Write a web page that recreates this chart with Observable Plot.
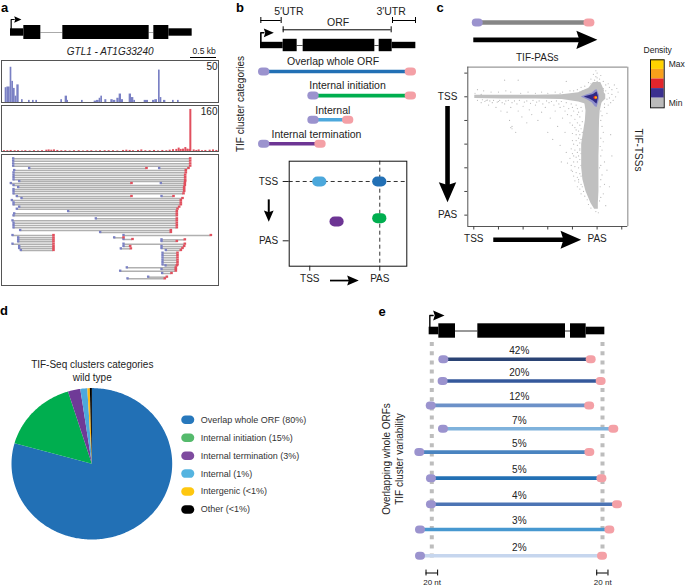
<!DOCTYPE html>
<html><head><meta charset="utf-8">
<script src="https://cdn.jsdelivr.net/npm/d3@7"></script>
<script src="https://cdn.jsdelivr.net/npm/@observablehq/plot@0.6"></script>
<style>
html,body{margin:0;padding:0;background:#fff}
#page{position:relative;width:685px;height:587px;overflow:hidden;font-family:"Liberation Sans",Arial,sans-serif;color:#222}
#page svg{position:absolute;overflow:visible;max-width:none}
.lab{position:absolute;white-space:nowrap;line-height:1;transform:translate(-50%,-50%)}
</style></head><body><div id="page"></div>
<script>
// ---------- DATA ----------
// panel a: coverage in genome bins
const tifTssBinStart=[13,18,23,28,33,38,43,48,62,83,95,105,180,193,200,242,280,287,295,300,312,330,337,348,355,362,385,392,399,430,437,455,462,473,478,488,515,530];
const tifTssBinEnd=[18,23,28,33,38,43,48,55,67,88,100,110,185,200,203,247,287,295,300,305,318,337,345,355,362,368,392,399,404,437,443,462,470,478,483,495,520,535];
const tifTssCount=[21,22,22,50,30,20,9,25,4,3,3,3,4,9,3,3,2,3,6,9,4,4,3,6,12,4,12,7,3,3,3,3,4,46,7,3,3,3];
const tifPasBin=[8,18,28,40,50,62,72,85,98,110,122,135,142,150,158,168,180,192,205,218,232,245,258,270,284,296,310,322,335,348,365,375,385,395,410,420,432,445,458,470,483,495,505,515,525,532,538,545,552,558,564,567,577,585,592,602,612,625,635,645];
const tifPasCount=[3,3,4,3,3,2,3,2,3,2,3,5,6,5,6,4,3,3,2,3,3,2,3,3,2,3,3,3,3,2,4,5,4,3,4,6,3,3,4,2,4,3,5,7,8,13,8,9,15,9,8,160,6,4,6,3,4,5,6,4];
const readRow=[25,32,40,47,54,54,60,67,74,81,88,93,99,99,105,111,117,123,130,138,138,144,150,157,163,170,176,183,190,196,205,211,218,225,232,240,246,255,262,268,274,281,288,294,300,255,262,267,281,288,295,268,273,288,294,300,308,315,322,329,336,343,346,352,357,362,369,380,385];
const readStart=[37,37,37,37,85,475,40,38,38,38,38,55,30,480,38,52,38,38,38,48,482,62,33,38,38,55,48,202,40,38,285,35,38,38,38,58,298,35,52,52,52,35,55,55,60,368,340,368,368,368,360,482,482,482,482,495,485,485,485,485,485,485,494,378,482,358,484,442,380];
const readEnd=[568,568,568,568,437,563,555,555,553,553,553,553,392,552,552,550,550,550,548,392,518,545,540,540,540,535,530,528,528,528,528,528,528,528,528,510,510,158,158,158,158,158,158,158,158,630,368,395,552,388,390,552,528,550,545,540,530,530,530,530,530,530,528,525,525,525,512,498,492];
// gene models
const geneA={utr:[[30,70],[505,575]],cds:[[70,121],[187,446],[460,505]],intron:[[121,187],[446,460]]};
const geneB={utr:[[75,143],[470,541]],cds:[[143,185],[203,418],[431,470]],intron:[[185,203],[418,431]]};
const geneE={utr:[[176,205],[647,703]],cds:[[205,255],[322,585],[600,647]],intron:[[255,322],[585,600]]};
// panel b
const categoryNames=["Overlap whole ORF","Internal initiation","Internal","Internal termination"];
const categoryStart=[86,234,234,86];
const categoryEnd=[526,526,338,255];
const categoryLabelCentre=[293,336,292,243];
const categoryColors=["#2270B5","#00AE4F","#4CA8DC","#6D3594"];
const sketchU=[0.143,1,1,0.39];
const sketchV=[0,0,0.618,0.674];
const sketchColors=["#4CA8DC","#2270B5","#00AE4F","#6D3594"];
// panel c
const envelopeV=[-0.12,-0.05,0.05,0.12,0.2,0.3,0.4,0.5,0.6,0.7,0.8,0.9,0.95];
const envelopeLeft=[0.97,0.92,0.9,0.91,0.905,0.89,0.875,0.875,0.875,0.885,0.91,0.95,0.98];
const envelopeRight=[1.03,1.06,1.04,1.025,1.02,1.018,1.018,1.015,1.015,1.015,1.015,1.01,1.01];
const ridgeU=[0.008,0.23,0.5,0.716,0.851,0.905,1.0,1.07];
const ridgeTop=[-0.012,-0.012,-0.012,-0.017,-0.035,-0.06,-0.1,-0.02];
const ridgeBottom=[0.014,0.018,0.018,0.023,0.045,0.06,0.09,0.02];
const hotHaloU=[0.875,0.92,0.96,0.985,1.0,1.02];
const hotHaloTop=[0,-0.018,-0.03,-0.055,-0.06,-0.01];
const hotHaloBottom=[0.003,0.025,0.05,0.085,0.09,0.02];
const hotCoreU=[0.9,0.94,0.97,0.99,1.0,1.01];
const hotCoreTop=[0,-0.01,-0.02,-0.035,-0.04,-0.005];
const hotCoreBottom=[0.004,0.018,0.035,0.055,0.06,0.012];
const sparsePairs=[[.93,-.12],[.95,-.15],[.97,-.19],[.99,-.17],[1,-.2],[1.02,-.15],[1.03,-.18],[1.05,-.13],[1.07,-.1],[1.09,-.11],[1.1,-.08],[1.12,-.06],[1.14,-.1],[1.16,-.07],[1.17,-.04],[1.15,0],[1.13,.03],[1.11,.05],[1.09,.07],[.9,-.09],[.87,-.08],[.84,-.06],[.81,-.05],[.78,-.05],[.75,-.13],[.72,-.04],[.7,-.03],[.66,-.04],[.6,-.03],[.55,-.04],[.5,-.03],[.44,-.04],[.38,-.03],[.3,-.04],[.25,-.14],[.36,-.14],[.26,-.05],[.2,-.04],[.14,-.04],[.08,-.05],[.03,-.06],[.01,-.03],[.06,-.02],
[.03,.03],[.06,.05],[.1,.03],[.12,.07],[.15,.05],[.18,.09],[.2,.04],[.22,.12],[.25,.06],[.27,.13],[.29,.2],[.3,.09],[.31,.25],[.3,.26],[.31,.27],[.34,.3],[.36,.12],[.39,.17],[.4,.08],[.43,.22],[.45,.11],[.47,.15],[.5,.07],[.52,.2],[.55,.13],[.58,.09],[.6,.3],[.62,.18],[.64,.36],[.66,.12],[.68,.25],[.7,.41],[.71,.55],[.72,.18],[.74,.3],[.75,.47],[.76,.56],[.78,.22],[.79,.62],[.8,.37],[.81,.5],[.83,.28],[.84,.15],[.85,.7],[.86,.45],
[.07,.025],[.09,.04],[.11,.028],[.13,.035],[.16,.03],[.19,.045],[.21,.03],[.23,.05],[.26,.035],[.28,.03],[.31,.05],[.33,.035],[.35,.06],[.37,.03],[.41,.045],[.43,.035],[.46,.055],[.48,.03],[.51,.045],[.53,.035],[.56,.06],[.59,.035],[.61,.05],[.63,.04],[.65,.07],[.67,.035],[.69,.06],[.71,.04],[.73,.08],[.75,.05],[.77,.1],[.79,.06],[.81,.12],[.83,.07],[.85,.13],[.87,.09],[.7,.09],[.74,.12],[.76,.15],[.79,.16],[.8,.09],[.82,.19],[.84,.1],[.86,.17],[.88,.12],
[.8,.24],[.82,.26],[.84,.22],[.86,.24],[.88,.21],[.87,.27],[.85,.29],[.83,.32],[.8,.31],[.86,.32],[.88,.3],[.85,.35],[.83,.37],[.87,.36],[.81,.4],[.84,.41],[.86,.39],[.79,.44],[.82,.45],[.84,.47],[.86,.44],[.8,.48],[.83,.51],[.85,.5],[.87,.48],[.78,.52],[.81,.55],[.84,.55],[.86,.53],[.79,.58],[.82,.59],[.85,.6],[.87,.58],[.8,.63],[.83,.64],[.86,.65],[.81,.67],[.84,.68],[.87,.67],[.82,.71],[.85,.72],[.87,.74],[.84,.76],[.86,.78],[.88,.76],[.87,.82],[.89,.8],[.9,.84],[.92,.87],[.93,.91],[.95,.94],
[1.03,.2],[1.05,.3],[1.04,.45],[1.06,.55],[1.08,.62],[1.03,.7],[1.1,.76],[1.05,.82],[1.02,.88],[1.07,.92],[.99,.97],[1.01,.98],[1.12,.5],[1.03,.12],[1.04,.25],[1.05,.38],[1.03,.5],[1.02,.6],[1.04,.66],[1.06,.74],[1.03,.85],[1.04,.16],[1.06,.09],[1.08,.14],[1.11,.32],[1.03,.35],[1.025,.42],[1.03,.58],[1.025,.76],
[.96,-.08],[.98,-.1],[.97,-.06],[.94,-.08],[.92,-.06],[.95,-.11],[1.0,-.13],[1.01,-.11],[1.03,-.09],[1.05,-.07],[1.04,-.05],[1.07,-.05],[1.09,-.03],[1.08,.02],[1.06,.06],[1.1,.01],[1.12,-.02],[.9,-.05],[.88,-.05],[.86,-.04],[1.0,-.16],[.98,-.14],[.99,-.22]];
const densityLevels=["Max","High","Mid","Low","Min"];
const densityColors=["#FFD200","#F9A01B","#E2252B","#3B308F","#BBBBBB"];
// panel d
const pieNames=["Overlap whole ORF (80%)","Internal initiation (15%)","Internal termination (3%)","Internal (1%)","Intergenic (<1%)","Other (<1%)"];
const pieValues=[79.4,15.8,2.5,1.4,0.5,0.4];
const pieColors=["#2270B5","#00AE4F","#6F3A97","#4CA8DC","#F9B81A","#000000"];
const legendColors=["#2778BC","#55BA6C","#7E4B9F","#55B4E0","#FEC70F","#000000"];
// panel e
const clusterPercent=["42%","20%","12%","7%","5%","5%","4%","3%","2%"];
const clusterRow=[0,0.89,1.88,2.83,3.78,4.84,5.9,6.93,8];
const clusterStart=[20.6,19.4,-1,20,-20.6,-0.6,-0.6,-19.4,-19.4];
const clusterEnd=[273.2,290.3,270.6,312,270.9,291.6,318.3,305.2,292.6];
const clusterColors=["#2A4374","#35589B","#6C91C8","#7FB2DC","#4A84C0","#2370B4","#4C74B4","#4798D0","#C6D6EE"];
const PURPLE="#9B93CE",PINK="#F4A0A6";

// ---------- HELPERS ----------
const FONT='"Liberation Sans",Arial,sans-serif';
const page=document.getElementById("page");
const style=fs=>({background:"transparent",fontFamily:FONT,fontSize:fs+"px",color:"#222",overflow:"visible"});
function place(svg,left,top){svg.style.left=left+"px";svg.style.top=top+"px";page.appendChild(svg);return svg;}
function label(t,x,y,o={}){const s=document.createElement("span");s.className="lab";s.textContent=t;
  s.style.left=x+"px";s.style.top=y+"px";s.style.fontSize=(o.size||10)+"px";
  if(o.bold){s.style.fontWeight="bold";s.style.color="#000";}
  if(o.rotate)s.style.transform=`translate(-50%,-50%) rotate(${o.rotate}deg)`;
  page.appendChild(s);}
const head={draw(c,size){const r=Math.sqrt(size/Math.PI);c.moveTo(-r,-r*.87);c.lineTo(r,0);c.lineTo(-r,r*.87);c.lineTo(-r*.72,0);c.closePath();}};
const headMark=(x,y,r,rotate=0)=>Plot.dot([0],{x:()=>x,y:()=>y,r,rotate,symbol:head,fill:"#000",stroke:"none"});
const seg=(x1,x2,y,stroke,w,cap)=>Plot.ruleY([0],{x1:()=>x1,x2:()=>x2,y:()=>y,stroke,strokeWidth:w,strokeLinecap:cap||"butt"});
const vseg=(x,y1,y2,stroke,w)=>Plot.ruleX([0],{x:()=>x,y1:()=>y1,y2:()=>y2,stroke,strokeWidth:w});
function bracket(x1,x2,y,cap,w=1){return [seg(x1,x2,y,"#000",w),vseg(x1,y-cap,y+cap,"#000",w),vseg(x2,y-cap,y+cap,"#000",w)];}
function transcriptMarks(start,end,y,color,half,pillW,barW){return [
  seg(start,end,y,color,barW),
  seg(start-half,start+half,y,PURPLE,pillW,"round"),
  seg(end-half,end+half,y,PINK,pillW,"round")];}
function geneModel(g,{w,h,cy,hc,hu,flagX,flagH,headX,headR,lw,intronColor,extra=[]}){
  const box=(arr,H,fill)=>Plot.rect(arr,{x1:d=>d[0],x2:d=>d[1],y1:()=>-H,y2:()=>H,fill});
  return Plot.plot({width:w,height:h,margin:0,style:style(10),
    x:{domain:[0,w*3],axis:null,label:null},y:{domain:[-cy,h-cy],reverse:true,axis:null,label:null},
    marks:[
      Plot.ruleY(g.intron,{x1:d=>d[0],x2:d=>d[1],y:()=>0,stroke:intronColor,strokeWidth:1}),
      box(g.utr,hu,"#000"),box(g.cds,hc,"#000"),
      Plot.line([[flagX,0],[flagX,-flagH],[headX-headR*3,-flagH]],{x:d=>d[0],y:d=>d[1],stroke:"#000",strokeWidth:lw}),
      headMark(headX,-flagH,headR),
      ...extra]});
}

// ---------- PANEL LETTERS ----------
label("a",4.5,7,{size:13,bold:true});label("b",240,7,{size:13,bold:true});label("c",440,7,{size:13,bold:true});
label("d",4,310,{size:13,bold:true});label("e",382,311,{size:13,bold:true});

// ---------- PANEL A ----------
place(geneModel(geneA,{w:235,h:60,cy:32,hc:7,hu:3.7,flagX:32,flagH:13,headX:52,headR:3.6,lw:1.2,intronColor:"#aaa",extra:[
  Plot.text(["GTL1 - AT1G33240"],{x:()=>329,y:()=>19,text:d=>d,fontStyle:"italic",fontSize:10,fill:"#222"}),
  Plot.text(["0.5 kb"],{x:()=>611,y:()=>19,text:d=>d,fontSize:8.5,fill:"#222"}),
  seg(570,648,25,"#000",1)]}),0,0);
const trackX={domain:[2,653],axis:null,label:null};
const trackBox={width:219,marginLeft:1,marginRight:1,marginTop:0,marginBottom:0,style:style(10)};
place(Plot.plot({...trackBox,height:42,x:trackX,y:{domain:[0,59.6],axis:null,label:null},marks:[
  Plot.rectY(tifTssCount.map((v,i)=>({a:tifTssBinStart[i],b:tifTssBinEnd[i],v})),{x1:"a",x2:"b",y:"v",fill:"#7A80C4"}),
  Plot.frame({stroke:"#555",strokeWidth:1}),
  Plot.text(["50"],{frameAnchor:"top-right",dx:-1,dy:2,text:d=>d,fontSize:10,fill:"#222"})]}),0,60);
place(Plot.plot({...trackBox,height:46,x:trackX,y:{domain:[0,175],axis:null,label:null},marks:[
  Plot.rectY(tifPasCount.map((v,i)=>({a:tifPasBin[i],b:tifPasBin[i]+6,v})),{x1:"a",x2:"b",y:"v",fill:"#E1505E"}),
  Plot.frame({stroke:"#555",strokeWidth:1}),
  Plot.text(["160"],{frameAnchor:"top-right",dx:-1,dy:2,text:d=>d,fontSize:10,fill:"#222"})]}),0,105);
const reads=readRow.map((r,i)=>({r,s:readStart[i],e:readEnd[i]}));
place(Plot.plot({...trackBox,height:131,x:trackX,y:{domain:[12,405],reverse:true,axis:null,label:null},marks:[
  Plot.ruleY(reads,{x1:"s",x2:"e",y:"r",stroke:"#b0b0b0",strokeWidth:1.5}),
  Plot.ruleX(reads,{x:"s",y1:d=>d.r-3.4,y2:d=>d.r+3.4,stroke:"#7A80C4",strokeWidth:2.4}),
  Plot.ruleX(reads,{x:"e",y1:d=>d.r-3.4,y2:d=>d.r+3.4,stroke:"#E1505E",strokeWidth:2.6}),
  Plot.frame({stroke:"#555",strokeWidth:1})]}),0,154);

// ---------- PANEL B ----------
place(geneModel(geneB,{w:200,h:55,cy:45,hc:6.2,hu:3.2,flagX:76,flagH:12.7,headX:100,headR:5,lw:1.6,intronColor:"#555",extra:[
  ...bracket(76,137,-25,3),...bracket(143,467,-15.7,3),...bracket(471,540,-25,3),
  Plot.text(["5′UTR"],{x:()=>160,y:()=>-34.3,text:d=>d,fontSize:10.5,fill:"#222"}),
  Plot.text(["ORF"],{x:()=>308,y:()=>-23.3,text:d=>d,fontSize:10.5,fill:"#222"}),
  Plot.text(["3′UTR"],{x:()=>467,y:()=>-34.3,text:d=>d,fontSize:10.5,fill:"#222"})]}),235,0);
place(Plot.plot({width:200,height:100,marginLeft:0,marginRight:0,marginTop:16,marginBottom:11.7,style:style(10),
  x:{domain:[0,600],axis:null,label:null},y:{type:"point",domain:categoryNames,padding:0,round:false,axis:null,label:null},
  marks:[...categoryNames.flatMap((n,i)=>[
    ...transcriptMarks(categoryStart[i],categoryEnd[i],n,categoryColors[i],5,8,3.6),
    Plot.text([n],{x:()=>categoryLabelCentre[i],y:()=>n,text:d=>d,dy:-9.5,fontSize:10.5,fill:"#222"})])]}),235,55);
label("TIF cluster categories",241,103.5,{rotate:-90});
place(Plot.plot({width:200,height:145,marginLeft:53.7,marginRight:28.7,marginTop:10.7,marginBottom:29.3,style:style(10),
  x:{domain:[-0.294,1.386],axis:null,label:null},y:{domain:[-0.342,1.428],reverse:true,axis:null,label:null},
  marks:[
    Plot.ruleY([0],{stroke:"#333",strokeWidth:1,strokeDasharray:"4 3"}),
    Plot.ruleX([1],{stroke:"#333",strokeWidth:1,strokeDasharray:"4 3"}),
    ...sketchU.map((u,i)=>seg(u-0.03,u+0.03,sketchV[i],sketchColors[i],10,"round")),
    Plot.frame({stroke:"#111",strokeWidth:1}),
    Plot.axisX({ticks:[0,1],tickFormat:d=>d===0?"TSS":"PAS",tickSize:5,tickPadding:4,label:null}),
    Plot.axisY({ticks:[0,1],tickFormat:d=>d===0?"TSS":"PAS",tickSize:6,tickPadding:5,label:null}),
    seg(0.296,0.6,1.67,"#000",1.7),headMark(0.617,1.67,5.8),
    vseg(-0.586,0.31,0.56,"#000",2),headMark(-0.586,0.585,5.6,90)]}),235,150);

// ---------- PANEL C ----------
const cticksX=[0,.2,.4,.6,.8,1,1.2],cticksY=[-.2,0,.2,.4,.6,.8,1];
const tssPas=d=>d===0?"TSS":d===1?"PAS":"";
place(Plot.plot({width:215,height:250,marginLeft:32.3,marginRight:22.7,marginTop:66.7,marginBottom:24,style:style(10),
  x:{domain:[-0.0486,1.249],axis:null,label:null},y:{domain:[-0.25,1.096],reverse:true,axis:null,label:null},
  marks:[
    Plot.dot(sparsePairs,{x:d=>d[0],y:d=>d[1],r:0.6,fill:"#b8b8b8",stroke:"none"}),
    Plot.areaX(envelopeV.map((v,i)=>({v,a:envelopeLeft[i],b:envelopeRight[i]})),{y:"v",x1:"a",x2:"b",fill:"#c0c0c0",curve:"linear"}),
    Plot.areaY(ridgeU.map((u,i)=>({u,a:ridgeTop[i],b:ridgeBottom[i]})),{x:"u",y1:"a",y2:"b",fill:"#c0c0c0",curve:"linear"}),
    Plot.areaY(hotHaloU.map((u,i)=>({u,a:hotHaloTop[i],b:hotHaloBottom[i]})),{x:"u",y1:"a",y2:"b",fill:"#8f8fcb",curve:"linear"}),
    Plot.areaY(hotCoreU.map((u,i)=>({u,a:hotCoreTop[i],b:hotCoreBottom[i]})),{x:"u",y1:"a",y2:"b",fill:"#2f2a86",curve:"linear"}),
    Plot.dot([.985],{x:d=>d,y:()=>.006,r:1.8,fill:"#E2252B",stroke:"none"}),
    Plot.dot([.99],{x:d=>d,y:()=>.006,r:1.2,fill:"#F9A01B",stroke:"none"}),
    Plot.dot([.992],{x:d=>d,y:()=>.006,r:.6,fill:"#FFD200",stroke:"none"}),
    Plot.ruleY([-0.25],{stroke:"#999",strokeWidth:1.2}),Plot.ruleX([1.249],{stroke:"#999",strokeWidth:1.2}),
    Plot.ruleY([1.096],{stroke:"#555",strokeWidth:1}),Plot.ruleX([-0.0486],{stroke:"#555",strokeWidth:1}),
    Plot.axisX({ticks:cticksX,tickFormat:tssPas,tickSize:3.5,tickPadding:4.5,stroke:"#444",label:null}),
    Plot.axisY({ticks:cticksY,tickFormat:tssPas,tickSize:3,tickPadding:7.5,stroke:"#444",label:null}),
    ...transcriptMarks(.032,.938,-.628,"#868686",.012,8,4.4),
    seg(0,.9,-.481,"#000",4.6),headMark(.917,-.481,10.5),
    Plot.text(["TIF-PASs"],{x:()=>.515,y:()=>-.33,text:d=>d,fontSize:10,fill:"#222"}),
    vseg(-.213,.082,.77,"#000",4.6),headMark(-.213,.806,10,90),
    seg(.162,.77,1.208,"#000",4.6),headMark(.787,1.208,10.3)]}),435,0);
label("TIF-TSSs",638.3,150,{rotate:90});
label("Density",657.7,50,{size:8.5});
place(Plot.plot({width:45,height:65,marginLeft:10,marginRight:21.3,marginTop:9.3,marginBottom:7.7,style:style(8.5),
  y:{type:"band",domain:densityLevels,padding:0,round:false,axis:null,label:null},x:{axis:null},
  marks:[
    Plot.cell(densityLevels,{y:d=>d,fill:(d,i)=>densityColors[i]}),
    Plot.frame({stroke:"#111",strokeWidth:1}),
    Plot.axisY({anchor:"right",ticks:["Max","Min"],tickSize:0,tickPadding:4.5,label:null})]}),640,50);

// ---------- PANEL D ----------
const arcs=d3.pie().sort(null)(pieValues);
const wedges=arcs.map(a=>{const pts=[[0,0]];const n=Math.max(2,Math.ceil((a.endAngle-a.startAngle)*57.3));
  for(let k=0;k<=n;k++){const t=a.startAngle+(a.endAngle-a.startAngle)*k/n;pts.push([Math.sin(t),Math.cos(t)]);}return pts;});
place(Plot.plot({width:180,height:220,marginLeft:11,marginRight:8.3,marginTop:47.6,marginBottom:21,style:style(10),
  x:{domain:[-1,1],axis:null,label:null},y:{domain:[-1,1],axis:null,label:null},
  marks:[...wedges.map((w,i)=>Plot.line(w,{x:d=>d[0],y:d=>d[1],fill:pieColors[i],stroke:"none",curve:"linear-closed"})),
    Plot.text(["TIF-Seq clusters categories"],{x:()=>.005,y:()=>1.31,text:d=>d,fontSize:10,fill:"#222"}),
    Plot.text(["wild type"],{x:()=>.005,y:()=>1.139,text:d=>d,fontSize:10,fill:"#222"})]}),0,340);
place(Plot.plot({width:170,height:110,marginLeft:0,marginRight:0,marginTop:9.3,marginBottom:11,style:style(9),
  x:{domain:[0,170],axis:null,label:null},y:{type:"point",domain:pieNames,padding:0,round:false,axis:null,label:null},
  marks:[...pieNames.map((n,i)=>seg(10.5,15,n,legendColors[i],8.5,"round")),
    Plot.text(pieNames,{x:()=>25.3,y:d=>d,text:d=>d,textAnchor:"start",fontSize:9,fill:"#333"})]}),175,410);

// ---------- PANEL E ----------
place(geneModel(geneE,{w:280,h:45,cy:30.5,hc:7.2,hu:3.8,flagX:178,flagH:15.5,headX:205,headR:5.7,lw:1.4,intronColor:"#333"}),370,300);
place(Plot.plot({width:280,height:247,marginLeft:61.3,marginRight:48,marginTop:18.7,marginBottom:247-215.3,style:style(10),
  x:{domain:[0,292.6],axis:null,label:null},y:{domain:[0,8],reverse:true,axis:null,label:null},
  marks:[
    Plot.ruleX([0,292.6],{y1:()=>-0.68,y2:()=>8.28,stroke:"#bdbdbd",strokeWidth:4,strokeDasharray:"4 5.2"}),
    ...clusterRow.flatMap((r,i)=>[
      ...transcriptMarks(clusterStart[i],clusterEnd[i],r,clusterColors[i],1.7,8,3.6),
      Plot.text([clusterPercent[i]],{x:()=>150,y:()=>r,text:d=>d,dy:-8.3,fontSize:10,fill:"#222"})]),
    ...bracket(-9.9,10,8.7,.12),...bracket(282.7,302,8.7,.12),
    Plot.text(["20 nt"],{x:()=>0.5,y:()=>9.1,text:d=>d,fontSize:8,fill:"#222"}),
    Plot.text(["20 nt"],{x:()=>293,y:()=>9.1,text:d=>d,fontSize:8,fill:"#222"})]}),370,340);
label("Overlapping whole ORFs",386.7,459,{rotate:-90});
label("TIF cluster variability",400,459,{rotate:-90});
</script></body></html>
